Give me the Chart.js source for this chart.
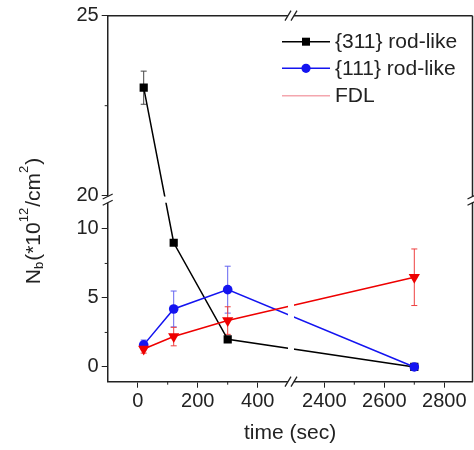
<!DOCTYPE html>
<html><head><meta charset="utf-8">
<script src="https://cdn.jsdelivr.net/npm/chart.js@4.4.0/dist/chart.umd.min.js"></script>
<style>html,body{margin:0;padding:0;background:#fff}#wrap{width:474px;height:450px;position:relative}</style>
</head><body><div id="wrap"><canvas id="c" width="474" height="450" style="width:474px;height:450px"></canvas></div>
<script>
// ---- data ----
const times = [20, 120, 300, 2700];
const rod311 = [23, 9, 2, 0];
const rod311Err = [0.46, 0, 0, 0];
const rod111 = [1.6, 4.2, 5.6, 0];
const rod111Err = [0.35, 1.3, 1.7, 0];
const fdl = [1.3, 2.2, 3.36, 6.5];
const fdlErr = [0.3, 0.67, 1.0, 2.05];
const seriesLabels = ['{311} rod-like', '{111} rod-like', 'FDL'];
const xTickLabels = [0, 200, 400, 2400, 2600, 2800];
const xMinorTicks = [100, 300, 2500, 2700];
const yTickLabels = [0, 5, 10, 20, 25];
const yMinorTicks = [2.5, 7.5, 22.5];

// ---- broken-axis mapping ----
const xMap = x => x < 1000 ? x : x - 1778;
const yMap = y => y < 15 ? y : 12.41 + (y - 20) * 2.609;
const X_BREAK_LO = 501, X_BREAK_HI = xMap(2300) - 1;
const Y_BREAK_LO = 11.9, Y_BREAK_HI = 12.35;

const FONT = "'Liberation Sans', Arial, sans-serif";
const TXT = '#222';

const colors = ['#000000', '#1414f0', '#ee0000'];
const errColors = ['#444444', '#6464f0', '#ee4040'];
const values = [rod311, rod111, fdl];
const errs = [rod311Err, rod111Err, fdlErr];

function pts(arr) { return times.map((t, i) => ({x: xMap(t), y: yMap(arr[i])})); }

const errorBars = {
  id: 'errorBars',
  beforeDatasetsDraw(chart) {
    const ctx = chart.ctx, xs = chart.scales.x, ys = chart.scales.y;
    ctx.save();
    ctx.lineWidth = 1;
    values.forEach((arr, s) => {
      ctx.strokeStyle = errColors[s];
      arr.forEach((v, i) => {
        const e = errs[s][i];
        if (!e) return;
        const px = xs.getPixelForValue(xMap(times[i]));
        const top = ys.getPixelForValue(yMap(v + e));
        const bot = ys.getPixelForValue(yMap(v - e));
        ctx.beginPath();
        ctx.moveTo(px, top); ctx.lineTo(px, bot);
        ctx.moveTo(px - 3, top); ctx.lineTo(px + 3, top);
        ctx.moveTo(px - 3, bot); ctx.lineTo(px + 3, bot);
        ctx.stroke();
      });
    });
    ctx.restore();
  }
};

const frame = {
  id: 'frame',
  afterDraw(chart) {
    const ctx = chart.ctx, ca = chart.chartArea, xs = chart.scales.x, ys = chart.scales.y;
    const bx1 = xs.getPixelForValue(X_BREAK_LO), bx2 = xs.getPixelForValue(X_BREAK_HI);
    const by1 = ys.getPixelForValue(Y_BREAK_HI), by2 = ys.getPixelForValue(Y_BREAK_LO);
    ctx.save();
    // gaps at the breaks
    ctx.fillStyle = '#fff';
    ctx.fillRect(bx1, ca.top - 3, bx2 - bx1, ca.bottom - ca.top + 6);
    ctx.fillRect(ca.left - 3, by1, ca.right - ca.left + 6, by2 - by1);
    // top and right borders
    ctx.strokeStyle = TXT; ctx.lineWidth = 1.5;
    ctx.beginPath();
    ctx.moveTo(ca.left, ca.top); ctx.lineTo(bx1, ca.top);
    ctx.moveTo(bx2, ca.top); ctx.lineTo(ca.right, ca.top);
    ctx.moveTo(ca.right, ca.top); ctx.lineTo(ca.right, by1);
    ctx.moveTo(ca.right, by2); ctx.lineTo(ca.right, ca.bottom);
    ctx.stroke();
    // minor ticks
    ctx.lineWidth = 1;
    ctx.beginPath();
    xMinorTicks.forEach(v => { const p = xs.getPixelForValue(xMap(v)); ctx.moveTo(p, ca.bottom); ctx.lineTo(p, ca.bottom + 3); });
    yMinorTicks.forEach(v => { const p = ys.getPixelForValue(yMap(v)); ctx.moveTo(ca.left, p); ctx.lineTo(ca.left - 3, p); });
    ctx.stroke();
    // break marks
    ctx.lineWidth = 1.3;
    ctx.beginPath();
    [bx1, bx2].forEach(x => {
      [ca.top, ca.bottom].forEach(y => { ctx.moveTo(x - 3, y + 5); ctx.lineTo(x + 3, y - 5); });
    });
    [by1, by2].forEach(y => {
      [ca.left, ca.right].forEach(x => { ctx.moveTo(x - 5, y + 2.5); ctx.lineTo(x + 5, y - 2.5); });
    });
    ctx.stroke();

    // legend
    const rows = [41.7, 68.3, 95.7];
    ctx.font = '21px ' + FONT;
    ctx.textBaseline = 'middle';
    ctx.textAlign = 'left';
    chart.data.datasets.forEach((ds, i) => {
      const y = rows[i];
      ctx.strokeStyle = i === 2 ? '#f4a6ae' : ds.borderColor;
      ctx.lineWidth = 1.5;
      ctx.beginPath(); ctx.moveTo(282, y); ctx.lineTo(330, y); ctx.stroke();
      if (i < 2) {
        ctx.fillStyle = ds.borderColor;
        ctx.beginPath();
        if (i === 0) ctx.rect(302, y - 4, 8, 8);
        else ctx.arc(306, y, 4.6, 0, Math.PI * 2);
        ctx.fill();
      }
      ctx.fillStyle = TXT;
      ctx.fillText(ds.label, 335, y + 1);
    });

    // y title with sub/superscripts
    ctx.translate(32, 221);
    ctx.rotate(-Math.PI / 2);
    const big = '21px ' + FONT, small = '13px ' + FONT;
    const parts = [['N', 0], ['b', 1], ['(*10', 0], ['12', 2], ['/cm', 0], ['2', 2], [')', 0]];
    let total = 0;
    parts.forEach(p => { ctx.font = p[1] ? small : big; total += ctx.measureText(p[0]).width + (p[1] ? 1 : 0); });
    let x = -total / 2;
    ctx.textBaseline = 'alphabetic';
    ctx.fillStyle = TXT;
    parts.forEach(p => {
      ctx.font = p[1] ? small : big;
      const dy = p[1] === 1 ? 11 : p[1] === 2 ? -4 : 7.5;
      ctx.fillText(p[0], x, dy);
      x += ctx.measureText(p[0]).width + (p[1] ? 1 : 0);
    });
    ctx.restore();
  }
};

new Chart(document.getElementById('c'), {
  type: 'line',
  data: {
    datasets: [
      {label: seriesLabels[0], data: pts(rod311), borderColor: colors[0], backgroundColor: colors[0],
       pointStyle: 'rect', pointRadius: 5.8, pointBorderWidth: 0, borderWidth: 1.5, order: 2},
      {label: seriesLabels[1], data: pts(rod111), borderColor: colors[1], backgroundColor: colors[1],
       pointStyle: 'circle', pointRadius: 4.8, pointBorderWidth: 0, borderWidth: 1.5, order: 1},
      {label: seriesLabels[2], data: pts(fdl), borderColor: colors[2], backgroundColor: colors[2],
       pointStyle: 'triangle', rotation: 180, pointRadius: 6.5, pointBorderWidth: 0, borderWidth: 1.5, order: 0}
    ]
  },
  options: {
    responsive: false,
    animation: false,
    devicePixelRatio: 1,
    layout: {autoPadding: false, padding: {left: 0, right: 1.5, top: 15.7, bottom: 0}},
    plugins: {legend: {display: false}, tooltip: {enabled: false}},
    elements: {line: {tension: 0}},
    scales: {
      x: {
        type: 'linear', min: -100, max: 1116,
        afterFit(s) { s.height = 68.3; s.paddingLeft = 0; s.paddingRight = 0; },
        afterBuildTicks(s) { s.ticks = xTickLabels.map(v => ({value: xMap(v)})); },
        ticks: {autoSkip: false, maxRotation: 0, padding: 2, color: TXT, font: {family: FONT, size: 20},
                callback: (v, i) => String(xTickLabels[i])},
        grid: {drawOnChartArea: false, drawTicks: true, tickLength: 6, tickColor: TXT, tickWidth: 1},
        border: {color: TXT, width: 1.5},
        title: {display: true, text: 'time (sec)', color: TXT, font: {family: FONT, size: 21}, padding: {top: 0, bottom: 4}}
      },
      y: {
        type: 'linear', min: -1.07, max: yMap(25),
        afterFit(s) { s.width = 107.7; s.paddingTop = 0; s.paddingBottom = 0; },
        afterBuildTicks(s) { s.ticks = yTickLabels.map(v => ({value: yMap(v)})); },
        ticks: {autoSkip: false, padding: 3, color: TXT, font: {family: FONT, size: 20},
                callback: (v, i) => String(yTickLabels[i])},
        grid: {drawOnChartArea: false, drawTicks: true, tickLength: 6, tickColor: TXT, tickWidth: 1},
        border: {color: TXT, width: 1.5}
      }
    }
  },
  plugins: [errorBars, frame]
});
</script></body></html>
